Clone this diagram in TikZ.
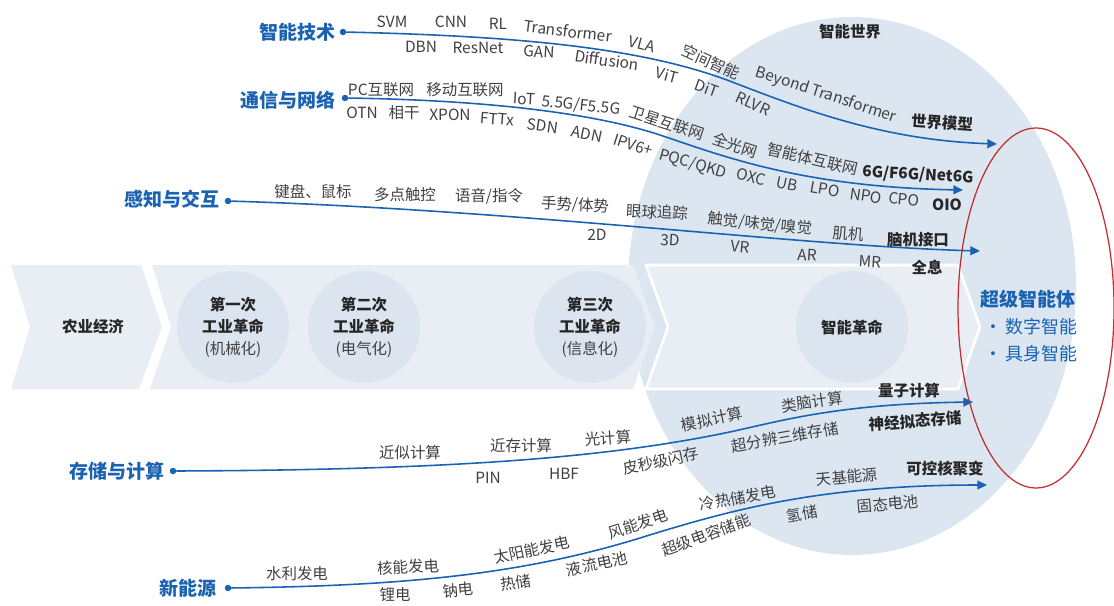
\documentclass[tikz,border=0pt]{standalone}
\usepackage{fontspec}
\setmainfont{Noto Sans CJK SC}
\usetikzlibrary{arrows.meta}
\definecolor{lineblue}{HTML}{1A62B2}
\definecolor{worldblue}{HTML}{DCE6F1}
\definecolor{bandgray}{HTML}{E9EEF4}
\definecolor{circblue}{HTML}{DCE5EF}
\definecolor{itemgray}{HTML}{404040}
\definecolor{headgray}{HTML}{262626}
\definecolor{ringred}{HTML}{C42B31}
\begin{document}
\begin{tikzpicture}[x=0.02cm,y=-0.02cm,inner sep=0pt,outer sep=0pt,
item/.style={font=\fontsize{8.8}{10}\selectfont,text=itemgray},
goal/.style={font=\fontsize{8.8}{10}\selectfont\bfseries,text=headgray},
field/.style={font=\fontsize{10.8}{12}\selectfont\bfseries,text=lineblue,anchor=east},
era/.style={circle,fill=circblue,minimum size=2.24cm,align=center,font=\fontsize{8.8}{12.5}\selectfont\bfseries,text=headgray},
dot/.style={circle,fill=lineblue,minimum size=0.13cm},
flow/.style={lineblue,line width=0.9pt,-{Triangle[length=5.5pt,width=5pt]}}]

\useasboundingbox (0,0) rectangle (1114,605);
\fill[worldblue] (852,286) ellipse [x radius=224,y radius=269];

\fill[bandgray] (11,265) -- (141,265) -- (162,327) -- (139,389) -- (11,389) -- (30,327) -- cycle;
\fill[bandgray] (152,265) -- (633,265) -- (655,327) -- (633,389) -- (150,389) -- (171,327) -- cycle;
\filldraw[fill=bandgray,draw=white,line width=1.5pt] (646,265) -- (958,265) -- (980,327) -- (958,389) -- (646,389) -- (668,327) -- cycle;

\node[font=\fontsize{8.8}{10}\selectfont\bfseries,text=headgray] (agri) at (93,327) {农业经济};
\node[era] (ir1) at (233,327) {第一次\\工业革命\\{\mdseries\color{itemgray}(机械化)}};
\node[era] (ir2) at (364,327) {第二次\\工业革命\\{\mdseries\color{itemgray}(电气化)}};
\node[era] (ir3) at (590,327) {第三次\\工业革命\\{\mdseries\color{itemgray}(信息化)}};
\node[era] (ir4) at (852,327) {智能革命};
\node[goal] (world) at (850,32) {智能世界};

\node[field] (ai) at (335,32) {智能技术};
\node[dot] (aiDot) at (343,32) {};
\coordinate (aiBend) at (727,80);
\coordinate (aiEnd) at (997,144);
\draw[flow] (aiDot) .. controls (520,36) and (640,48) .. (aiBend) .. controls (800,108) and (880,140) .. (aiEnd);
\node[item] (svm) at (392,22) {SVM};
\node[item] (cnn) at (451,22) {CNN};
\node[item] (rl) at (498,24) {RL};
\node[item,rotate=-7] (trf) at (568,31) {Transformer};
\node[item,rotate=-15] (vla) at (642,44) {VLA};
\node[item,rotate=-24] (kjzn) at (711,62) {空间智能};
\node[item,rotate=-18] (byt) at (826,95) {Beyond Transformer};
\node[goal,rotate=-4] (sjmx) at (942,123) {世界模型};
\node[item] (dbn) at (421,47) {DBN};
\node[item] (resnet) at (478,48) {ResNet};
\node[item,rotate=-3] (gan) at (539,52) {GAN};
\node[item,rotate=-8] (diff) at (607,60) {Diffusion};
\node[item,rotate=-15] (vit) at (667,75) {ViT};
\node[item,rotate=-20] (dit) at (707,88) {DiT};
\node[item,rotate=-24] (rlvr) at (753,104) {RLVR};

\node[field] (net) at (335,100) {通信与网络};
\node[dot] (netDot) at (345,98) {};
\coordinate (netBend) at (660,135);
\coordinate (netEnd) at (963,190);
\draw[flow] (netDot) .. controls (480,100) and (590,112) .. (netBend) .. controls (720,155) and (800,187) .. (netEnd);
\node[item] (pc) at (381,90) {PC互联网};
\node[item] (mob) at (465,90) {移动互联网};
\node[item,rotate=-3] (iot) at (524,99) {IoT};
\node[item,rotate=-6] (g55) at (581,106) {5.5G/F5.5G};
\node[item,rotate=-18] (sat) at (667,123) {卫星互联网};
\node[item,rotate=-18] (aon) at (735,145) {全光网};
\node[item,rotate=-13] (agent) at (813,159) {智能体互联网};
\node[goal,rotate=-3] (g6) at (918,175) {6G/F6G/Net6G};
\node[item] (otn) at (362,113) {OTN};
\node[item] (coh) at (404,113) {相干};
\node[item] (xpon) at (450,115) {XPON};
\node[item,rotate=-4] (fttx) at (497,119) {FTTx};
\node[item,rotate=-8] (sdn) at (543,126) {SDN};
\node[item,rotate=-12] (adn) at (587,134) {ADN};
\node[item,rotate=-18] (ipv6) at (633,145) {IPV6+};
\node[item,rotate=-16] (pqc) at (693,164) {PQC/QKD};
\node[item,rotate=-15] (oxc) at (751,177) {OXC};
\node[item,rotate=-12] (ub) at (787,184) {UB};
\node[item,rotate=-10] (lpo) at (825,189) {LPO};
\node[item,rotate=-8] (npo) at (866,196) {NPO};
\node[item,rotate=-5] (cpo) at (904,199) {CPO};
\node[goal] (oio) at (947,205) {OIO};

\node[field] (hci) at (219,199) {感知与交互};
\node[dot] (hciDot) at (228,201) {};
\coordinate (hciEnd) at (980,251);
\draw[flow] (hciDot) .. controls (520,210) and (800,246) .. (hciEnd);
\node[item] (kbd) at (313,192) {键盘、鼠标};
\node[item] (touch) at (405,195) {多点触控};
\node[item] (voice) at (489,196) {语音/指令};
\node[item,rotate=-3] (gest) at (575,205) {手势/体势};
\node[item,rotate=-3] (eye) at (657,212) {眼球追踪};
\node[item,rotate=-6] (sense) at (760,224) {触觉/味觉/嗅觉};
\node[item,rotate=-4] (muscle) at (848,234) {肌机};
\node[goal] (bci) at (918,240) {脑机接口};
\node[item] (d2) at (597,235) {2D};
\node[item,rotate=-3] (d3) at (670,240) {3D};
\node[item,rotate=-5] (vr) at (740,247) {VR};
\node[item,rotate=-3] (ar) at (807,255) {AR};
\node[item,rotate=-4] (mr) at (870,262) {MR};
\node[goal] (holo) at (927,267) {全息};

\node[field] (cmp) at (164,471) {存储与计算};
\node[dot] (cmpDot) at (173,471) {};
\coordinate (cmpBend) at (720,434);
\coordinate (cmpEnd) at (973,402);
\draw[flow] (cmpDot) .. controls (450,470) and (600,458) .. (cmpBend) .. controls (775,423) and (830,404) .. (cmpEnd);
\node[item] (approx) at (410,453) {近似计算};
\node[item] (near) at (521,446) {近存计算};
\node[item,rotate=4] (optic) at (608,438) {光计算};
\node[item,rotate=12] (analog) at (712,419) {模拟计算};
\node[item,rotate=8] (brain) at (812,402) {类脑计算};
\node[goal] (quant) at (909,391) {量子计算};
\node[item] (pin) at (488,478) {PIN};
\node[item] (hbf) at (564,474) {HBF};
\node[item,rotate=12] (psflash) at (661,461) {皮秒级闪存};
\node[item,rotate=10] (sr3d) at (785,437) {超分辨三维存储};
\node[goal,rotate=4] (neuro) at (915,421) {神经拟态存储};

\node[field] (en) at (216,588) {新能源};
\node[dot] (enDot) at (228,588) {};
\coordinate (enBend) at (640,538);
\coordinate (enEnd) at (987,485);
\draw[flow] (enDot) .. controls (400,586) and (520,575) .. (enBend) .. controls (730,510) and (820,485) .. (enEnd);
\node[item] (hydro) at (297,574) {水利发电};
\node[item,rotate=3] (nuc) at (408,567) {核能发电};
\node[item,rotate=12] (solar) at (532,550) {太阳能发电};
\node[item,rotate=18] (wind) at (638,524) {风能发电};
\node[item,rotate=10] (cold) at (738,498) {冷热储发电};
\node[item,rotate=5] (space) at (847,477) {天基能源};
\node[goal] (fusion) at (945,469) {可控核聚变};
\node[item] (li) at (395,595) {锂电};
\node[item,rotate=5] (na) at (458,590) {钠电};
\node[item,rotate=8] (heat) at (516,583) {热储};
\node[item,rotate=12] (flowbat) at (597,564) {液流电池};
\node[item,rotate=20] (supcap) at (706,535) {超级电容储能};
\node[item,rotate=10] (h2) at (802,514) {氢储};
\node[item,rotate=5] (solid) at (888,504) {固态电池};

\draw[ringred,line width=0.7pt] (1036,308) ellipse [x radius=78,y radius=180];
\node[font=\fontsize{10.8}{12}\selectfont\bfseries,text=lineblue] (super) at (1028,299) {超级智能体};
\node[font=\fontsize{10.2}{12}\selectfont,text=lineblue] (digital) at (1031,327) {·\,数字智能};
\node[font=\fontsize{10.2}{12}\selectfont,text=lineblue] (embodied) at (1031,354) {·\,具身智能};
\end{tikzpicture}
\end{document}
